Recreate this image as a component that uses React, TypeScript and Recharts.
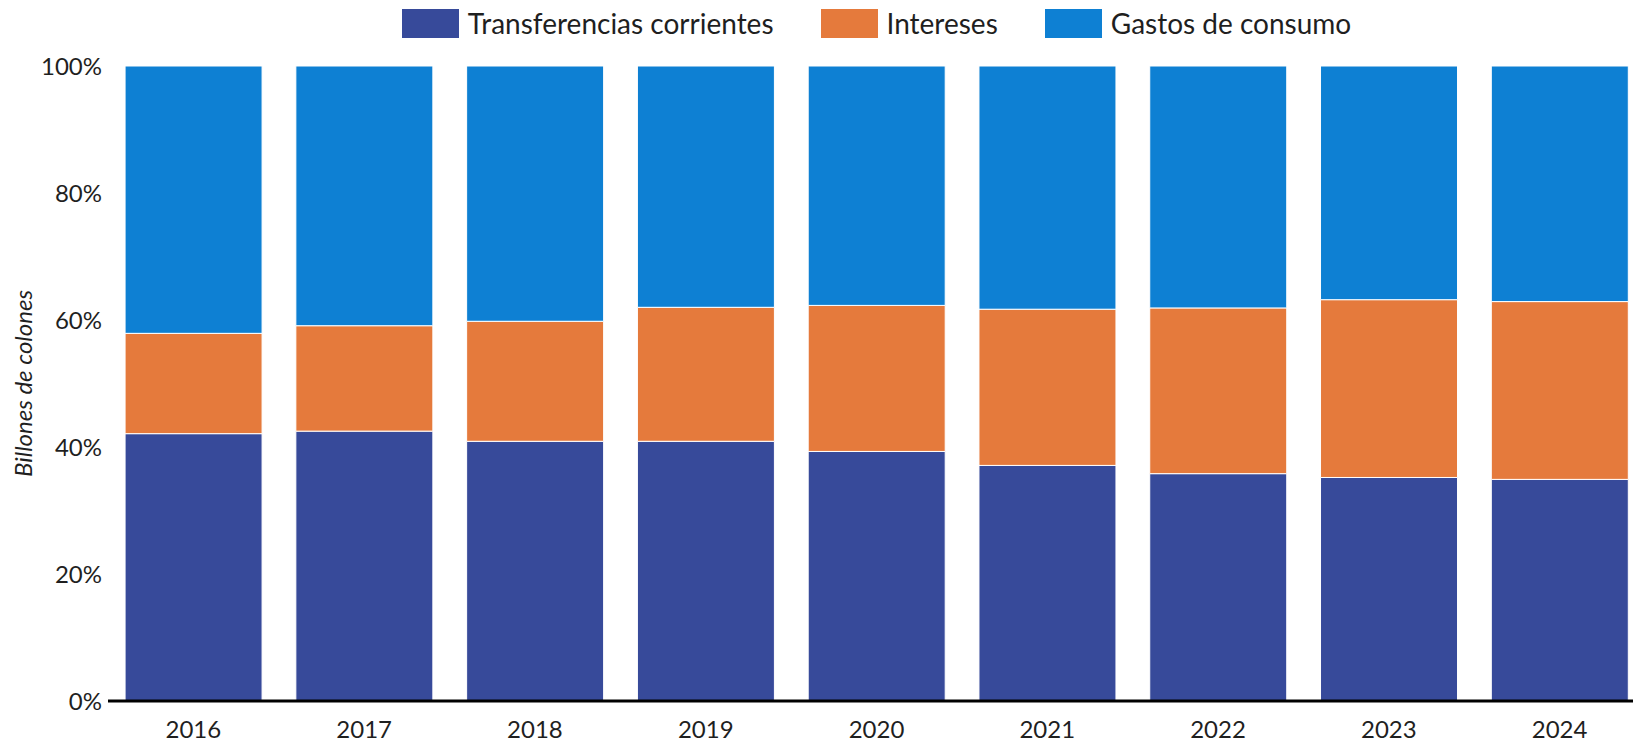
import React from 'react';
import { BarChart, Bar, XAxis, YAxis, Legend } from 'recharts';

const years = ['2016', '2017', '2018', '2019', '2020', '2021', '2022', '2023', '2024'];
const transferencias = [42.1, 42.5, 40.9, 40.9, 39.3, 37.1, 35.8, 35.2, 34.9];
const intereses = [15.8, 16.6, 18.9, 21.1, 23.0, 24.6, 26.1, 28.0, 28.0];
const gastos = [42.1, 40.9, 40.2, 38.0, 37.7, 38.3, 38.1, 36.8, 37.1];
const yTicks = [0, 0.2, 0.4, 0.6, 0.8, 1];
const legendOrder = ['Transferencias corrientes', 'Intereses', 'Gastos de consumo'];

const FONT = 'Lato, "Noto Sans", sans-serif';
const TEXT = '#1f1f1f';

const data = years.map((year, i) => ({
  year,
  transferencias: transferencias[i],
  intereses: intereses[i],
  gastos: gastos[i],
}));

const renderLegend = (props: any) => {
  const items = [...(props.payload || [])].sort(
    (a: any, b: any) => legendOrder.indexOf(a.value) - legendOrder.indexOf(b.value)
  );
  return (
    <div style={{ height: 66, display: 'flex', justifyContent: 'center', alignItems: 'flex-start' }}>
      {items.map((item: any, i: number) => (
        <div
          key={item.value}
          style={{
            display: 'flex',
            alignItems: 'center',
            marginTop: 9,
            marginRight: i < items.length - 1 ? 47 : 0,
            height: 29,
          }}
        >
          <div style={{ width: 57, height: 29, background: item.color, marginRight: 9 }} />
          <span style={{ fontFamily: FONT, fontSize: 28, color: TEXT, lineHeight: '29px' }}>{item.value}</span>
        </div>
      ))}
    </div>
  );
};

export default function App() {
  return (
    <div style={{ position: 'absolute', left: 0, top: 0, width: 1633, height: 743, overflow: 'hidden', background: '#fff' }}>
      <BarChart
        width={1645}
        height={743}
        data={data}
        stackOffset="expand"
        margin={{ top: 0, right: 0, bottom: 0, left: 0 }}
        style={{ fontFamily: FONT }}
      >
        <Legend
          verticalAlign="top"
          content={renderLegend}
          wrapperStyle={{ left: 108, width: 1537, top: 0 }}
        />
        <XAxis
          dataKey="year"
          height={42}
          tickLine={false}
          tickSize={0}
          tickMargin={20}
          axisLine={{ stroke: '#000', strokeWidth: 3 }}
          tick={{ fill: TEXT, fontSize: 24, fontFamily: FONT }}
        />
        <YAxis
          width={108}
          domain={[0, 1]}
          ticks={yTicks}
          tickFormatter={(v: number) => `${Math.round(v * 100)}%`}
          axisLine={false}
          tickLine={false}
          tickSize={6}
          tickMargin={0}
          tick={{ fill: TEXT, fontSize: 24, fontFamily: FONT }}
          label={{
            value: 'Billones de colones',
            angle: -90,
            position: 'insideLeft',
            offset: 23,
            style: { textAnchor: 'middle', fontStyle: 'italic', fontSize: 24, fill: TEXT, fontFamily: FONT },
          }}
        />
        <Bar dataKey="transferencias" name="Transferencias corrientes" stackId="a" fill="#374a9a" stroke="#fff" strokeWidth={1} isAnimationActive={false} />
        <Bar dataKey="intereses" name="Intereses" stackId="a" fill="#e57a3c" stroke="#fff" strokeWidth={1} isAnimationActive={false} />
        <Bar dataKey="gastos" name="Gastos de consumo" stackId="a" fill="#0e80d3" stroke="#fff" strokeWidth={1} isAnimationActive={false} />
      </BarChart>
    </div>
  );
}
